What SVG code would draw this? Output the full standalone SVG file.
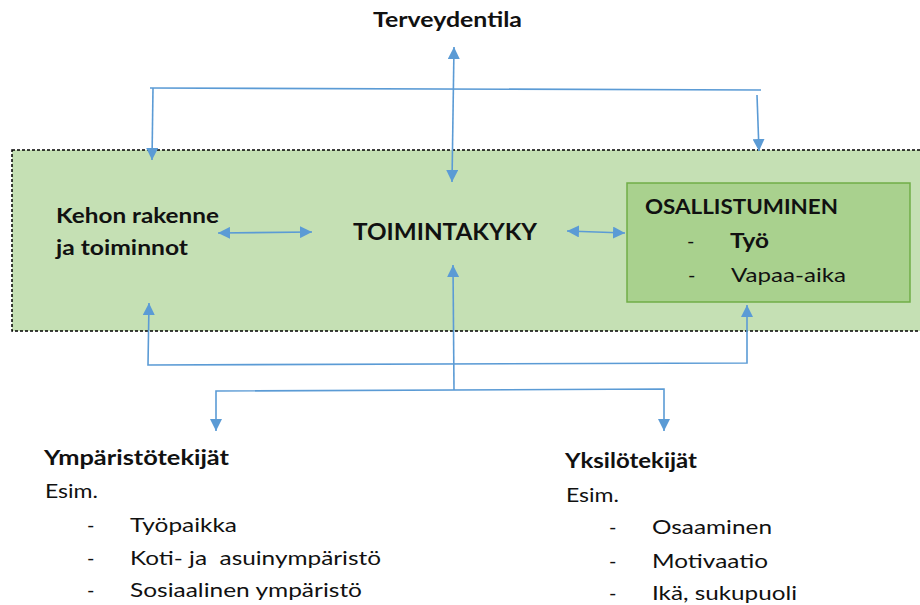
<svg xmlns="http://www.w3.org/2000/svg" width="920" height="605" viewBox="0 0 920 605">
<style>
text{font-family:Lato,"Liberation Sans",sans-serif;fill:#111;}
.b{font-weight:bold;}
.t{font-size:20px;}
.big{font-size:21px;}
.c{fill:none;stroke:#5B9BD5;stroke-width:1.6;}
</style>
<defs>
<marker id="ah" viewBox="0 0 12 12" refX="12" refY="6" markerWidth="12" markerHeight="12" markerUnits="userSpaceOnUse" orient="auto-start-reverse">
<path d="M0,0 L12,6 L0,12 z" fill="#5B9BD5"/>
</marker>
</defs>
<g id="osallistuminen-area">
<rect id="outer" x="12" y="150" width="915" height="181" fill="#C5E0B4" stroke="#000" stroke-width="1.5" stroke-dasharray="3,2"/>
</g>
<g id="osallistuminen">
<rect x="627" y="183" width="283" height="119" fill="#A9D18E" stroke="#70AD47" stroke-width="1.5"/>
<text class="b big" x="645" y="214" textLength="193" lengthAdjust="spacingAndGlyphs">OSALLISTUMINEN</text>
<text class="t" x="687" y="248">-</text>
<text class="b t" x="730" y="248" textLength="39" lengthAdjust="spacingAndGlyphs">Työ</text>
<text class="t" x="688" y="282">-</text>
<text class="t" x="731" y="282" textLength="115" lengthAdjust="spacingAndGlyphs">Vapaa-aika</text>
</g>
<g id="terveydentila">
<text class="b big" x="373" y="27" textLength="149" lengthAdjust="spacingAndGlyphs">Terveydentila</text>
</g>
<g id="kehon">
<text class="b t" x="56" y="223" textLength="163" lengthAdjust="spacingAndGlyphs">Kehon rakenne</text>
<text class="b t" x="56" y="255" textLength="132" lengthAdjust="spacingAndGlyphs">ja toiminnot</text>
</g>
<g id="toimintakyky">
<text class="b" style="font-size:22px" x="353" y="240" textLength="184" lengthAdjust="spacingAndGlyphs">TOIMINTAKYKY</text>
</g>
<g id="ymparisto">
<text class="b t" x="44" y="465" textLength="185" lengthAdjust="spacingAndGlyphs">Ympäristötekijät</text>
<text class="t" x="45" y="498" textLength="53" lengthAdjust="spacingAndGlyphs">Esim.</text>
<text class="t" x="87" y="532">-</text>
<text class="t" x="130" y="532" textLength="107" lengthAdjust="spacingAndGlyphs">Työpaikka</text>
<text class="t" x="87" y="565">-</text>
<text class="t" x="130" y="565" textLength="251" lengthAdjust="spacingAndGlyphs" style="white-space:pre">Koti- ja  asuinympäristö</text>
<text class="t" x="87" y="597">-</text>
<text class="t" x="130" y="597" textLength="232" lengthAdjust="spacingAndGlyphs">Sosiaalinen ympäristö</text>
</g>
<g id="yksilo">
<text class="b t" x="565" y="468" textLength="132" lengthAdjust="spacingAndGlyphs">Yksilötekijät</text>
<text class="t" x="566" y="502" textLength="53" lengthAdjust="spacingAndGlyphs">Esim.</text>
<text class="t" x="609" y="534">-</text>
<text class="t" x="652" y="534" textLength="120" lengthAdjust="spacingAndGlyphs">Osaaminen</text>
<text class="t" x="609" y="568">-</text>
<text class="t" x="652" y="568" textLength="116" lengthAdjust="spacingAndGlyphs">Motivaatio</text>
<text class="t" x="609" y="600">-</text>
<text class="t" x="652" y="600" textLength="145" lengthAdjust="spacingAndGlyphs">Ikä, sukupuoli</text>
</g>
<g id="connectors">
<path class="c" d="M454,47 L452,182" marker-start="url(#ah)" marker-end="url(#ah)"/>
<path class="c" d="M150,88 L761,90"/>
<path class="c" d="M153,88 L152,160" marker-end="url(#ah)"/>
<path class="c" d="M757,95 L759,151" marker-end="url(#ah)"/>
<path class="c" d="M218,233 L312,232" marker-start="url(#ah)" marker-end="url(#ah)"/>
<path class="c" d="M567,231 L625,233" marker-start="url(#ah)" marker-end="url(#ah)"/>
<path class="c" d="M149,303 L148,365 L747,363 L747,305" marker-start="url(#ah)" marker-end="url(#ah)"/>
<path class="c" d="M453,265 L454,390" marker-start="url(#ah)"/>
<path class="c" d="M216,431 L216,391 L664,389 L664,431" marker-start="url(#ah)" marker-end="url(#ah)"/>
</g>
</svg>
